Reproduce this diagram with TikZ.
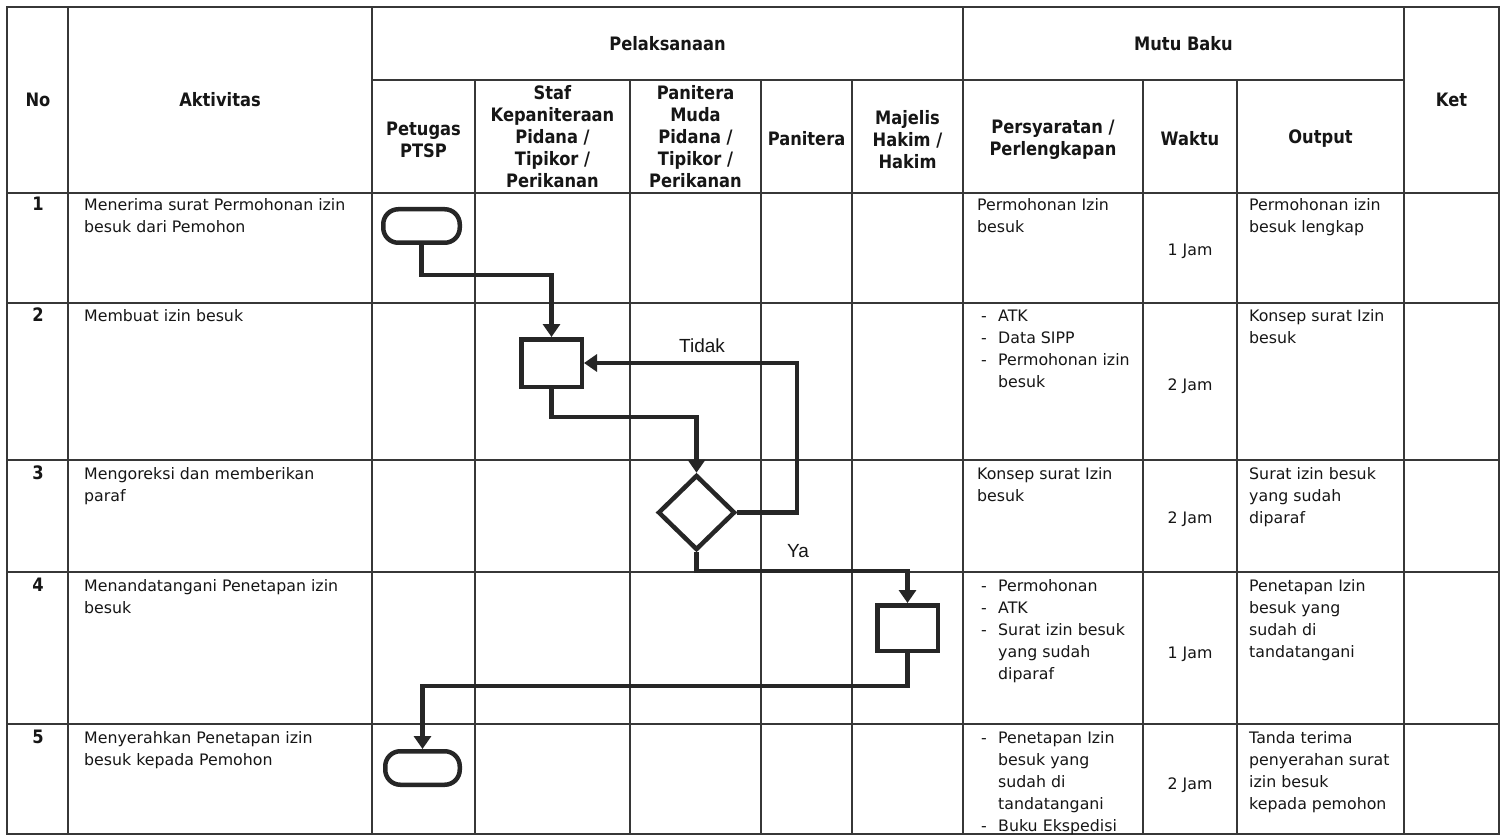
\documentclass[tikz,border=0pt]{standalone}
\usepackage{fontspec}
\setmainfont{DejaVu Sans}
\newfontfamily\arialf{Liberation Sans}
\newfontfamily\hdfam{DejaVu Sans}[FakeStretch=0.88]
\usetikzlibrary{arrows.meta,shapes.geometric}
\definecolor{tline}{RGB}{55,55,55}
\definecolor{fline}{RGB}{38,38,38}
\definecolor{txt}{RGB}{22,22,22}
\newcommand{\bodyfont}{\fontsize{15.8}{22}\selectfont}
\newcommand{\hdfont}{\hdfam\fontsize{18.5}{22}\selectfont\bfseries}
\newcommand{\bitem}[1]{\hspace*{4pt}\makebox[17pt][l]{-}#1}
\newcommand{\bcont}[1]{\hspace*{21pt}#1}
\tikzset{
 tabrule/.style={draw=tline, line width=1.3pt},
 arrline/.style={draw=fline, line width=4.5pt, -{Triangle[width=17pt,length=13pt]}},
 termbox/.style={draw=fline, line width=4.5pt, rounded corners=15pt, minimum width=76.5pt, minimum height=33.5pt, inner sep=0pt},
 procbox/.style={draw=fline, line width=4.5pt, minimum width=60.5pt, minimum height=47pt, inner sep=0pt},
 decbox/.style={diamond, draw=fline, line width=4.5pt, minimum width=77pt, minimum height=75pt, inner sep=0pt},
 hdrtxt/.style={font=\hdfont, align=center, text=txt, inner sep=0pt},
 celltxt/.style={anchor=base west, inner sep=0pt, text=txt, font=\bodyfont},
 numtxt/.style={anchor=base, inner sep=0pt, text=txt, font=\hdfont},
 wkttxt/.style={anchor=base, inner sep=0pt, text=txt, font=\bodyfont},
 flowlbl/.style={font=\arialf\fontsize{19}{22}\selectfont, text=txt, inner sep=0pt},
}
\begin{document}
\begin{tikzpicture}[x=1pt,y=-1pt]
\useasboundingbox (0,0) rectangle (1505,837);
\fill[white] (0,0) rectangle (1505,837);
% table rules
\draw[tabrule] (7,7) rectangle (1499,834);
\foreach \xx in {68,372,963,1404} \draw[tabrule] (\xx,7) -- (\xx,834);
\foreach \xx in {475,630,761,852,1143,1237} \draw[tabrule] (\xx,80) -- (\xx,834);
\draw[tabrule] (372,80) -- (1404,80);
\foreach \yy in {193,303,460,572,724} \draw[tabrule] (7,\yy) -- (1499,\yy);
% header
\node[hdrtxt] (hno) at (38,100) {No};
\node[hdrtxt] (hakt) at (220,100) {Aktivitas};
\node[hdrtxt] (hpel) at (667.5,44) {Pelaksanaan};
\node[hdrtxt] (hmutu) at (1183.5,44) {Mutu Baku};
\node[hdrtxt] (hket) at (1451.5,100) {Ket};
\node[hdrtxt] (hptsp) at (423.5,140) {Petugas\\PTSP};
\node[hdrtxt] (hstaf) at (552.5,137) {Staf\\Kepaniteraan\\Pidana /\\Tipikor /\\Perikanan};
\node[hdrtxt] (hpm) at (695.5,137) {Panitera\\Muda\\Pidana /\\Tipikor /\\Perikanan};
\node[hdrtxt] (hpan) at (806.5,139) {Panitera};
\node[hdrtxt] (hmaj) at (907.5,140) {Majelis\\Hakim /\\Hakim};
\node[hdrtxt] (hper) at (1053,140) {Persyaratan /\\Perlengkapan};
\node[hdrtxt] (hwak) at (1190,139) {Waktu};
\node[hdrtxt] (hout) at (1320.5,139) {Output};
% row 1
\node[numtxt] (n1) at (38,211) {1};
\node[celltxt] (a1) at (84,211) {\parbox[t]{280pt}{\raggedright Menerima surat Permohonan izin\\besuk dari Pemohon}};
\node[celltxt] (p1) at (977,211) {\parbox[t]{160pt}{\raggedright Permohonan Izin\\besuk}};
\node[wkttxt] (w1) at (1190,256) {1 Jam};
\node[celltxt] (o1) at (1249,211) {\parbox[t]{150pt}{\raggedright Permohonan izin\\besuk lengkap}};
% row 2
\node[numtxt] (n2) at (38,321) {2};
\node[celltxt] (a2) at (84,321) {Membuat izin besuk};
\node[celltxt] (p2) at (977,321) {\parbox[t]{160pt}{\raggedright \bitem{ATK}\\\bitem{Data SIPP}\\\bitem{Permohonan izin}\\\bcont{besuk}}};
\node[wkttxt] (w2) at (1190,390) {2 Jam};
\node[celltxt] (o2) at (1249,321) {\parbox[t]{150pt}{\raggedright Konsep surat Izin\\besuk}};
% row 3
\node[numtxt] (n3) at (38,479) {3};
\node[celltxt] (a3) at (84,479) {\parbox[t]{280pt}{\raggedright Mengoreksi dan memberikan\\paraf}};
\node[celltxt] (p3) at (977,479) {\parbox[t]{160pt}{\raggedright Konsep surat Izin\\besuk}};
\node[wkttxt] (w3) at (1190,523) {2 Jam};
\node[celltxt] (o3) at (1249,479) {\parbox[t]{150pt}{\raggedright Surat izin besuk\\yang sudah\\diparaf}};
% row 4
\node[numtxt] (n4) at (38,591) {4};
\node[celltxt] (a4) at (84,591) {\parbox[t]{280pt}{\raggedright Menandatangani Penetapan izin\\besuk}};
\node[celltxt] (p4) at (977,591) {\parbox[t]{160pt}{\raggedright \bitem{Permohonan}\\\bitem{ATK}\\\bitem{Surat izin besuk}\\\bcont{yang sudah}\\\bcont{diparaf}}};
\node[wkttxt] (w4) at (1190,658) {1 Jam};
\node[celltxt] (o4) at (1249,591) {\parbox[t]{150pt}{\raggedright Penetapan Izin\\besuk yang\\sudah di\\tandatangani}};
% row 5
\node[numtxt] (n5) at (38,743) {5};
\node[celltxt] (a5) at (84,743) {\parbox[t]{280pt}{\raggedright Menyerahkan Penetapan izin\\besuk kepada Pemohon}};
\node[celltxt] (p5) at (977,743) {\parbox[t]{160pt}{\raggedright \bitem{Penetapan Izin}\\\bcont{besuk yang}\\\bcont{sudah di}\\\bcont{tandatangani}\\\bitem{Buku Ekspedisi}}};
\node[wkttxt] (w5) at (1190,789) {2 Jam};
\node[celltxt] (o5) at (1249,743) {\parbox[t]{150pt}{\raggedright Tanda terima\\penyerahan surat\\izin besuk\\kepada pemohon}};
% flow shapes
\node[termbox] (t1) at (421.5,226) {};
\node[procbox, minimum height=47.5pt] (b2) at (551.5,363) {};
\node[decbox] (d3) at (696.5,512.5) {};
\node[procbox, minimum height=45.5pt] (b4) at (907.5,628) {};
\node[termbox, minimum width=74.5pt] (t5) at (422.5,768) {};
\coordinate (k1) at (0,275);
\coordinate (k2) at (0,417);
\coordinate (k3) at (797,0);
\coordinate (k4) at (0,571);
\coordinate (k5) at (0,686);
\draw[arrline] (t1.south) -- (t1.south |- k1) -| (b2.north);
\draw[arrline] (b2.south) -- (b2.south |- k2) -| (d3.north);
\draw[arrline] (d3.east) -- (d3.east -| k3) |- (b2.east);
\draw[arrline] (d3.south) -- (d3.south |- k4) -| (b4.north);
\draw[arrline] (b4.south) -- (b4.south |- k5) -| (t5.north);
\node[flowlbl] (ltidak) at (702,346) {Tidak};
\node[flowlbl] (lya) at (798,551) {Ya};
\end{tikzpicture}
\end{document}
